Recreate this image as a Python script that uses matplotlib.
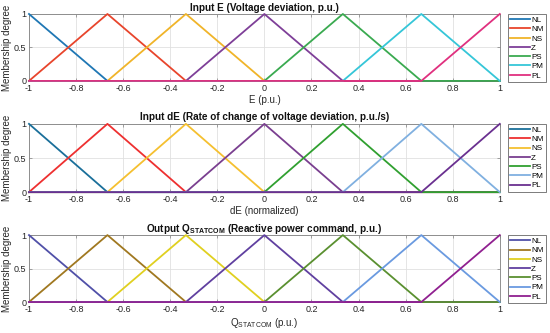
import matplotlib
matplotlib.use("Agg")
import matplotlib.pyplot as plt

plt.rcParams['font.family'] = ['Liberation Sans', 'DejaVu Sans']
plt.rcParams['mathtext.fontset'] = 'custom'
plt.rcParams['mathtext.rm'] = 'Liberation Sans'
plt.rcParams['mathtext.bf'] = 'Liberation Sans:bold'

# Breakpoints of the universe of discourse
x_points = [-1, -2/3, -1/3, 0, 1/3, 2/3, 1]
labels = ["NL", "NM", "NS", "Z", "PS", "PM", "PL"]

# Membership values at the breakpoints (triangular MFs)
NL = [1, 0, 0, 0, 0, 0, 0]
NM = [0, 1, 0, 0, 0, 0, 0]
NS = [0, 0, 1, 0, 0, 0, 0]
Z  = [0, 0, 0, 1, 0, 0, 0]
PS = [0, 0, 0, 0, 1, 0, 0]
PM = [0, 0, 0, 0, 0, 1, 0]
PL = [0, 0, 0, 0, 0, 0, 1]
mfs = [NL, NM, NS, Z, PS, PM, PL]

titles = ["Input E (Voltage deviation, p.u.)",
          "Input dE (Rate of change of voltage deviation, p.u./s)",
          r"Output Q$_{\mathbf{STATCOM}}$ (Reactive power command, p.u.)"]
xlabels = ["E (p.u.)", "dE (normalized)", r"Q$_{\mathrm{STATCOM}}$ (p.u.)"]

colors = [
    ["#1f77b4", "#e8452c", "#f0b429", "#7e3f98", "#3aaa50", "#35c6d8", "#e0307f"],
    ["#1a6f9a", "#ee3030", "#f5c030", "#7a3f90", "#30a030", "#80b0e0", "#6a3090"],
    ["#5050a8", "#a07820", "#e0d020", "#6040a0", "#5a9030", "#6a9ae0", "#902090"],
]

xticks = [-1, -0.8, -0.6, -0.4, -0.2, 0, 0.2, 0.4, 0.6, 0.8, 1]
xticklabels = ["-1", "-0.8", "-0.6", "-0.4", "-0.2", "0", "0.2", "0.4", "0.6", "0.8", "1"]
yticks = [0, 0.5, 1]
yticklabels = ["0", "0.5", "1"]

fig = plt.figure(figsize=(5.5, 3.33), dpi=100)
positions = [(0.0527, 0.757, 0.856, 0.201),
             (0.0527, 0.423, 0.856, 0.205),
             (0.0527, 0.093, 0.856, 0.201)]

for i in range(3):
    ax = fig.add_axes(positions[i])
    for j, (mf, lab) in enumerate(zip(mfs, labels)):
        ax.plot(x_points, mf, color=colors[i][j], lw=1.3, label=lab, clip_on=False, zorder=3)
    ax.set_xlim(-1, 1)
    ax.set_ylim(0, 1)
    ax.set_xticks(xticks)
    ax.set_xticklabels(xticklabels)
    ax.set_yticks(yticks)
    ax.set_yticklabels(yticklabels)
    ax.tick_params(direction='in', top=True, right=True, labelsize=6.5, length=2.5,
                   width=0.5, colors='#808080', labelcolor='#262626', pad=2)
    ax.grid(True, color='#e0e0e0', lw=0.6)
    ax.set_axisbelow(True)
    for s in ax.spines.values():
        s.set_color('#808080')
        s.set_linewidth(0.6)
    ax.set_title(titles[i], fontsize=7.2, fontweight='bold', pad=2.5, color='#111111')
    ax.set_xlabel(xlabels[i], fontsize=7, labelpad=1.5, color='#262626')
    ax.set_ylabel("Membership degree", fontsize=7, labelpad=1.5, color='#262626')
    leg = ax.legend(loc='upper left', bbox_to_anchor=(1.017, 1.0), borderaxespad=0,
                    fontsize=5.8, handlelength=2.5, handletextpad=0.1,
                    labelspacing=0.2, borderpad=0.3, fancybox=False, frameon=True)
    leg.get_frame().set_edgecolor('#404040')
    leg.get_frame().set_linewidth(0.6)

fig.savefig("out.png", dpi=100)
